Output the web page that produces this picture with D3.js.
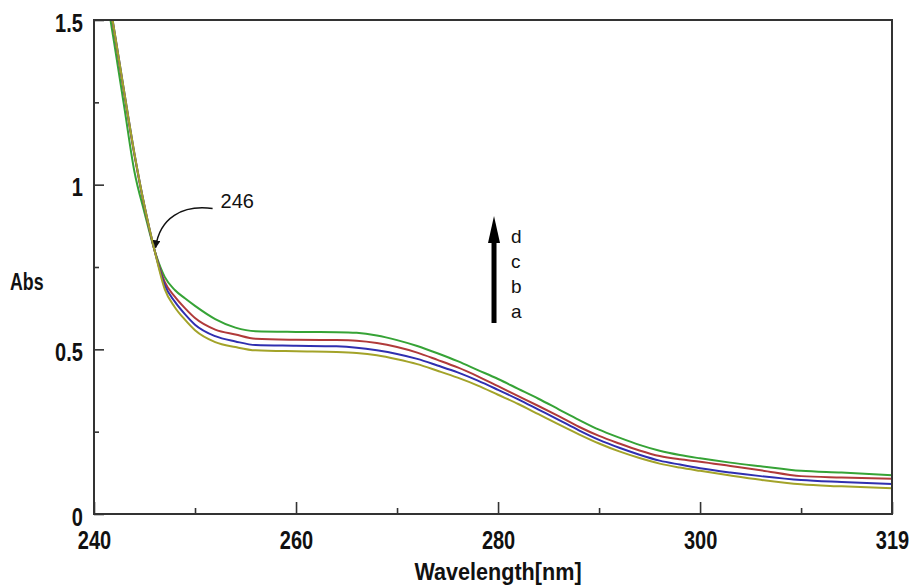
<!DOCTYPE html>
<html>
<head>
<meta charset="utf-8">
<script src="https://cdn.jsdelivr.net/npm/d3@7/dist/d3.min.js"></script>
<style>
  html, body { margin: 0; padding: 0; background: #fff; }
  svg { display: block; }
  .lbl { font-family: 'Liberation Sans', Arial, sans-serif; font-weight: bold; fill: #111; }
  .ann { font-family: 'Liberation Sans', Arial, sans-serif; fill: #111; }
</style>
</head>
<body>
<svg id="chart" width="912" height="587"></svg>
<script>
// ---- data ----
const wavelengths = [241,242,243,244,245,246,247,248,249,250,252,254,256,260,264,266,268,270,272,274,276,278,280,282,284,286,288,290,292,294,296,298,300,303,306,310,314,319];
const seriesA = [1.66,1.47,1.28,1.095,0.935,0.80,0.683,0.628,0.59,0.558,0.522,0.507,0.497,0.494,0.492,0.489,0.482,0.47,0.455,0.435,0.414,0.39,0.362,0.334,0.303,0.272,0.242,0.214,0.19,0.17,0.153,0.141,0.131,0.117,0.104,0.09,0.084,0.078];
const seriesB = [1.66,1.47,1.28,1.095,0.935,0.80,0.695,0.645,0.607,0.575,0.54,0.524,0.513,0.511,0.509,0.505,0.497,0.486,0.471,0.451,0.43,0.405,0.377,0.348,0.317,0.286,0.254,0.225,0.201,0.18,0.162,0.15,0.139,0.126,0.115,0.103,0.097,0.091];
const seriesC = [1.655,1.465,1.275,1.09,0.932,0.80,0.705,0.66,0.625,0.595,0.56,0.545,0.532,0.529,0.528,0.526,0.519,0.507,0.49,0.468,0.445,0.418,0.388,0.358,0.328,0.297,0.265,0.237,0.214,0.193,0.176,0.166,0.159,0.146,0.133,0.115,0.111,0.107];
const seriesD = [1.62,1.43,1.235,1.04,0.915,0.80,0.72,0.68,0.655,0.632,0.592,0.566,0.555,0.553,0.552,0.55,0.542,0.528,0.51,0.488,0.464,0.437,0.41,0.38,0.35,0.318,0.286,0.256,0.232,0.21,0.192,0.179,0.169,0.156,0.145,0.131,0.126,0.118];
const seriesNames = ["a","b","c","d"];
const seriesColors = ["#a3a329","#2f2fb0","#b03a3a","#36a336"];

const xMajorTicks = [240,260,280,300,319];
const xTickLabels = ["240","260","280","300","319"];
const xMinorTicks = [250,270,290,310];
const yMajorTicks = [0,0.5,1,1.5];
const yTickLabels = ["0","0.5","1","1.5"];
const yMinorTicks = [0.25,0.75,1.25];
const xTitle = "Wavelength[nm]";
const yTitle = "Abs";
const isosbestic = {lambda: 246, abs: 0.80, label: "246"};
const trendArrow = {lambda: 279.6, from: 0.58, to: 0.905};
const letterAbs = [0.595, 0.670, 0.746, 0.822];

// ---- layout ----
const L = 94, R = 892, T = 20, B = 514;
const NARROW = 0.8;
const svg = d3.select("#chart");
const x = d3.scaleLinear().domain([240, 319]).range([L, R]);
const y = d3.scaleLinear().domain([0, 1.5]).range([B, T]);

const defs = svg.append("defs");
defs.append("clipPath").attr("id","clip")
  .append("rect").attr("x", L).attr("y", T).attr("width", R - L).attr("height", B - T);

// curves
const allSeries = [seriesA, seriesB, seriesC, seriesD];
const line = d3.line().x(d => x(d[0])).y(d => y(d[1])).curve(d3.curveMonotoneX);
const g = svg.append("g").attr("clip-path", "url(#clip)");
[3,2,1,0].forEach(i => {
  const pts = wavelengths.map((w, j) => [w, allSeries[i][j]]);
  g.append("path").datum(pts).attr("d", line)
    .attr("fill", "none").attr("stroke", seriesColors[i]).attr("stroke-width", 2);
});

// axes
const axisColor = "#333";
const xAxis = svg.append("g").attr("transform", `translate(0,${B})`)
  .call(d3.axisBottom(x).tickValues(xMajorTicks).tickFormat((d, i) => xTickLabels[i]).tickSizeInner(-12).tickSizeOuter(0).tickPadding(17));
const xMinor = svg.append("g").attr("transform", `translate(0,${B})`)
  .call(d3.axisBottom(x).tickValues(xMinorTicks).tickFormat("").tickSizeInner(-6).tickSizeOuter(0));
const yAxis = svg.append("g").attr("transform", `translate(${L},0)`)
  .call(d3.axisLeft(y).tickValues(yMajorTicks).tickFormat((d, i) => yTickLabels[i]).tickSizeInner(-10).tickSizeOuter(0).tickPadding(14));
const yMinor = svg.append("g").attr("transform", `translate(${L},0)`)
  .call(d3.axisLeft(y).tickValues(yMinorTicks).tickFormat("").tickSizeInner(-5).tickSizeOuter(0));
[xAxis, xMinor, yAxis, yMinor].forEach(a => {
  a.select(".domain").remove();
  a.selectAll("line").attr("stroke", axisColor).attr("stroke-width", 1.6);
  a.selectAll("text").attr("class", "lbl").attr("font-size", 25).attr("fill", "#111")
    .attr("transform", `scale(${NARROW},1)`);
});
yAxis.selectAll("text").attr("dy", "0.45em");

// frame
svg.append("rect").attr("x", L).attr("y", T).attr("width", R - L).attr("height", B - T)
  .attr("fill", "none").attr("stroke", axisColor).attr("stroke-width", 2);

// titles
svg.append("g").attr("transform", `translate(${(L + R) / 2 + 5},580)`)
  .append("text").attr("class", "lbl").attr("font-size", 24)
  .attr("text-anchor", "middle").attr("transform", "scale(0.9,1)").text(xTitle);
svg.append("g").attr("transform", `translate(10,290)`)
  .append("text").attr("class", "lbl").attr("font-size", 24)
  .attr("transform", "scale(0.74,1)").text(yTitle);

// isosbestic annotation
defs.append("marker").attr("id", "ah").attr("viewBox", "0 0 10 10").attr("refX", 9).attr("refY", 5)
  .attr("markerWidth", 8).attr("markerHeight", 8).attr("orient", "auto-start-reverse")
  .attr("markerUnits", "userSpaceOnUse")
  .append("path").attr("d", "M0,0 L10,5 L0,10 Z").attr("fill", "#111");
const tx = x(isosbestic.lambda) + 1, ty = y(isosbestic.abs) - 3;
const sx = tx + 57, sy = ty - 39;
svg.append("path")
  .attr("d", `M${sx},${sy} C${sx - 30},${sy - 4} ${tx + 4},${ty - 30} ${tx},${ty}`)
  .attr("fill", "none").attr("stroke", "#111").attr("stroke-width", 1.5).attr("marker-end", "url(#ah)");
svg.append("text").attr("class", "ann").attr("font-size", 20)
  .attr("x", sx + 8).attr("y", sy - 1).text(isosbestic.label);

// trend arrow
const ax = x(trendArrow.lambda);
const yTop = y(trendArrow.to), yBot = y(trendArrow.from);
svg.append("rect").attr("x", ax - 2.5).attr("y", yTop + 20).attr("width", 5).attr("height", yBot - yTop - 20).attr("fill", "#000");
svg.append("path").attr("d", `M${ax},${yTop} L${ax + 6},${yTop + 27} L${ax - 6},${yTop + 27} Z`).attr("fill", "#000");
seriesNames.forEach((n, i) => {
  svg.append("text").attr("class", "ann").attr("font-size", 19)
    .attr("x", ax + 17).attr("y", y(letterAbs[i])).text(n);
});
</script>
</body>
</html>
